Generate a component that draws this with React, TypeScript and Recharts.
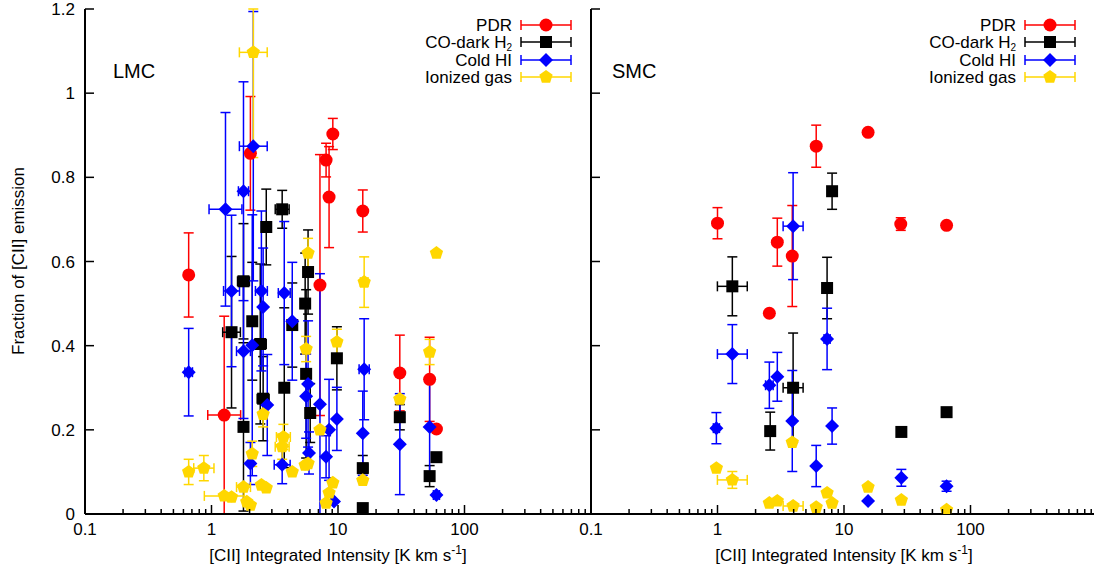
import React from 'react';
import { ScatterChart, Scatter, XAxis, YAxis, ErrorBar } from 'recharts';

// [x, y, yError, xErrorInDex]
const lmcPdr: number[][] = [
  [0.66, 0.568, 0.10, 0], [1.26, 0.235, 0.235, 0.13], [2.03, 0.857, 0.135, 0], [7.2, 0.544, 0.31, 0],
  [8.05, 0.841, 0.04, 0], [8.5, 0.753, 0.12, 0], [9.1, 0.903, 0.037, 0], [15.7, 0.72, 0.05, 0],
  [30.8, 0.335, 0.09, 0], [53, 0.32, 0.1, 0], [60, 0.202, 0, 0],
];
const lmcCoDark: number[][] = [
  [1.44, 0.432, 0.18, 0.07], [1.79, 0.553, 0.137, 0.047], [2.71, 0.682, 0.09, 0], [3.62, 0.724, 0.045, 0.055],
  [5.8, 0.575, 0.1, 0], [2.1, 0.458, 0.14, 0], [2.43, 0.404, 0.19, 0.047], [1.79, 0.207, 0.2, 0],
  [2.56, 0.274, 0.1, 0.047], [3.76, 0.30, 0.19, 0], [4.35, 0.449, 0.1, 0.03], [5.5, 0.50, 0.12, 0],
  [5.6, 0.333, 0.2, 0], [6.03, 0.24, 0.07, 0], [9.8, 0.37, 0.075, 0], [15.7, 0.109, 0.03, 0.04],
  [15.7, 0.014, 0.01, 0], [30.8, 0.23, 0.03, 0], [53, 0.09, 0.025, 0], [60, 0.135, 0, 0],
];
const lmcColdHI: number[][] = [
  [0.66, 0.337, 0.104, 0.03], [1.29, 0.724, 0.23, 0.13], [1.79, 0.767, 0.26, 0.04], [2.14, 0.874, 0.32, 0.11],
  [1.44, 0.53, 0.18, 0.063], [2.48, 0.53, 0.19, 0.047], [3.76, 0.525, 0.17, 0.047], [2.56, 0.492, 0.14, 0],
  [4.35, 0.458, 0.14, 0], [1.79, 0.387, 0.16, 0.055], [2.1, 0.401, 0.31, 0], [2.76, 0.259, 0.12, 0],
  [2.03, 0.12, 0.05, 0], [3.62, 0.117, 0.045, 0.063], [5.8, 0.309, 0.15, 0], [5.6, 0.28, 0.1, 0],
  [7.2, 0.261, 0.31, 0], [8.5, 0.2, 0.12, 0], [9.8, 0.226, 0.075, 0], [5.9, 0.145, 0.05, 0],
  [8.05, 0.136, 0.05, 0], [9.3, 0.03, 0, 0], [16.1, 0.344, 0.12, 0.04], [15.7, 0.192, 0.1, 0],
  [30.8, 0.166, 0.12, 0], [53, 0.207, 0.11, 0], [60, 0.045, 0, 0.024],
];
const lmcIonized: number[][] = [
  [2.14, 1.097, 0.25, 0.11], [5.8, 0.62, 0.035, 0], [16.1, 0.551, 0.06, 0.03], [60, 0.62, 0, 0],
  [5.6, 0.392, 0.03, 0], [9.8, 0.409, 0.03, 0], [53, 0.385, 0.03, 0], [30.8, 0.273, 0, 0],
  [15.7, 0.08, 0, 0], [2.56, 0.237, 0.03, 0], [3.7, 0.183, 0.03, 0.055], [3.62, 0.16, 0.03, 0.055],
  [2.1, 0.143, 0.03, 0], [4.35, 0.1, 0, 0], [5.5, 0.116, 0, 0], [5.8, 0.12, 0, 0],
  [0.66, 0.1, 0.03, 0], [0.87, 0.109, 0.03, 0.08], [1.26, 0.043, 0, 0.157], [1.44, 0.04, 0, 0],
  [1.79, 0.064, 0, 0.055], [1.9, 0.029, 0, 0], [2.03, 0.021, 0, 0], [2.48, 0.069, 0, 0],
  [2.71, 0.062, 0, 0], [9.1, 0.074, 0, 0], [8.5, 0.05, 0, 0], [8.05, 0.026, 0, 0], [7.2, 0.2, 0, 0],
];

const smcPdr: number[][] = [
  [1.0, 0.691, 0.037, 0], [2.97, 0.646, 0.057, 0.024], [3.9, 0.613, 0.12, 0], [2.57, 0.477, 0, 0.024],
  [6.03, 0.874, 0.05, 0], [15.5, 0.907, 0, 0], [28.1, 0.689, 0.015, 0], [64.7, 0.686, 0, 0],
];
const smcCoDark: number[][] = [
  [1.31, 0.541, 0.07, 0.118], [8.05, 0.767, 0.043, 0], [7.35, 0.537, 0.073, 0], [3.96, 0.30, 0.13, 0.079],
  [2.61, 0.197, 0.045, 0.024], [28.4, 0.195, 0, 0], [64.7, 0.242, 0, 0],
];
const smcColdHI: number[][] = [
  [0.98, 0.204, 0.037, 0.024], [1.31, 0.38, 0.07, 0.118], [2.57, 0.306, 0.055, 0.03], [2.97, 0.326, 0.058, 0],
  [3.96, 0.684, 0.127, 0.079], [3.9, 0.221, 0.12, 0], [7.35, 0.416, 0.073, 0.024], [8.05, 0.209, 0.043, 0],
  [6.03, 0.114, 0.049, 0], [15.5, 0.031, 0, 0], [28.4, 0.086, 0.02, 0], [64.7, 0.066, 0.012, 0],
];
const smcIonized: number[][] = [
  [0.98, 0.109, 0, 0], [1.31, 0.081, 0.02, 0.118], [2.57, 0.026, 0, 0], [2.97, 0.031, 0, 0],
  [3.96, 0.019, 0, 0.079], [3.9, 0.17, 0, 0], [6.03, 0.016, 0, 0], [7.35, 0.05, 0, 0],
  [8.05, 0.026, 0, 0], [15.5, 0.064, 0, 0], [28.4, 0.033, 0, 0], [64.7, 0.01, 0, 0],
];

const xTicks = [
  0.1, 0.2, 0.3, 0.4, 0.5, 0.6, 0.7, 0.8, 0.9,
  1, 2, 3, 4, 5, 6, 7, 8, 9,
  10, 20, 30, 40, 50, 60, 70, 80, 90,
  100, 200, 300, 400, 500, 600, 700, 800, 900, 1000,
];
const xMajorLabels = [0.1, 1, 10, 100];
const xMajor = [0.1, 1, 10, 100, 1000];
const yTicks = [0, 0.2, 0.4, 0.6, 0.8, 1, 1.2];
const Y_MIN = 0;
const Y_MAX = 1.2;
const seriesNames = ['PDR', 'CO-dark H', 'Cold HI', 'Ionized gas'];

const RED = '#ff0000';
const BLACK = '#000000';
const BLUE = '#0000ff';
const GOLD = '#ffd700';
const FONT = '"Liberation Sans", Arial, Helvetica, sans-serif';

// error bars are cut at the frame, as in the reference
const build = (rows: number[][]) =>
  rows.map(([x, y, dy, dd]) => ({
    x,
    y,
    ey: [Math.min(dy, y - Y_MIN), Math.min(dy, Y_MAX - y)],
    ex: [x - x / Math.pow(10, dd), x * Math.pow(10, dd) - x],
  }));

const CircleShape = (p: any) => <circle cx={p.cx} cy={p.cy} r={6.5} fill={RED} />;
const SquareShape = (p: any) => <rect x={p.cx - 6} y={p.cy - 6} width={12} height={12} fill={BLACK} />;
const DiamondShape = (p: any) => (
  <polygon
    points={`${p.cx},${p.cy - 7} ${p.cx + 7},${p.cy} ${p.cx},${p.cy + 7} ${p.cx - 7},${p.cy}`}
    fill={BLUE}
  />
);
const pentPts = (cx: number, cy: number, r: number) =>
  [0, 1, 2, 3, 4]
    .map((i) => {
      const a = (-90 + i * 72) * (Math.PI / 180);
      return `${cx + r * Math.cos(a)},${cy + r * Math.sin(a)}`;
    })
    .join(' ');
const PentagonShape = (p: any) => <polygon points={pentPts(p.cx, p.cy, 7)} fill={GOLD} />;

const fmtX = (v: number) => (v === 0.1 ? '0.1' : String(v));

const makeXTick = (side: 'bottom' | 'top', labels: boolean) => (props: any) => {
  const { x, y, payload } = props;
  const v = payload.value;
  const major = xMajor.some((m) => Math.abs(m - v) < 1e-9);
  const len = major ? 9 : 5;
  const dir = side === 'bottom' ? -1 : 1;
  return (
    <g>
      <line x1={x} y1={y} x2={x} y2={y + dir * len} stroke="#000" strokeWidth={1.5} />
      {labels && xMajorLabels.includes(v) && (
        <text x={x} y={y + 21} textAnchor="middle" fontSize={17} fontFamily={FONT} fill="#000">
          {fmtX(v)}
        </text>
      )}
    </g>
  );
};

const makeYTick = (side: 'left' | 'right', labels: boolean) => (props: any) => {
  const { x, y, payload } = props;
  const dir = side === 'left' ? 1 : -1;
  return (
    <g>
      <line x1={x} y1={y} x2={x + dir * 9} y2={y} stroke="#000" strokeWidth={1.5} />
      {labels && (
        <text x={x - 10} y={y + 6} textAnchor="end" fontSize={17} fontFamily={FONT} fill="#000">
          {String(payload.value)}
        </text>
      )}
    </g>
  );
};

const axisLine = { stroke: '#000', strokeWidth: 2 };

const Panel = ({
  width,
  leftWidth,
  labels,
  pdr,
  co,
  hi,
  ion,
}: {
  width: number;
  leftWidth: number;
  labels: boolean;
  pdr: number[][];
  co: number[][];
  hi: number[][];
  ion: number[][];
}) => {
  const series = [
    { data: build(pdr), color: RED, shape: CircleShape },
    { data: build(co), color: BLACK, shape: SquareShape },
    { data: build(hi), color: BLUE, shape: DiamondShape },
    { data: build(ion), color: GOLD, shape: PentagonShape },
  ];
  return (
    <ScatterChart width={width} height={571} margin={{ top: 9, right: 9, bottom: 0, left: 0 }}>
      <XAxis
        xAxisId="b"
        dataKey="x"
        type="number"
        scale="log"
        domain={[0.1, 1000]}
        ticks={xTicks}
        interval={0}
        orientation="bottom"
        height={57}
        tickSize={0}
        tickMargin={0}
        tickLine={false}
        axisLine={axisLine}
        tick={makeXTick('bottom', true)}
        allowDataOverflow
      />
      <XAxis
        xAxisId="t"
        dataKey="x"
        type="number"
        scale="log"
        domain={[0.1, 1000]}
        ticks={xTicks}
        interval={0}
        orientation="top"
        height={0}
        tickSize={0}
        tickMargin={0}
        tickLine={false}
        axisLine={axisLine}
        tick={makeXTick('top', false)}
        allowDataOverflow
      />
      <YAxis
        yAxisId="l"
        dataKey="y"
        type="number"
        domain={[Y_MIN, Y_MAX]}
        ticks={yTicks}
        interval={0}
        orientation="left"
        width={leftWidth}
        tickSize={0}
        tickMargin={0}
        tickLine={false}
        axisLine={axisLine}
        tick={makeYTick('left', labels)}
        allowDataOverflow
      />
      <YAxis
        yAxisId="r"
        dataKey="y"
        type="number"
        domain={[Y_MIN, Y_MAX]}
        ticks={yTicks}
        interval={0}
        orientation="right"
        width={0}
        tickSize={0}
        tickMargin={0}
        tickLine={false}
        axisLine={axisLine}
        tick={makeYTick('right', false)}
        allowDataOverflow
      />
      {series.map((s, i) => (
        <Scatter
          key={i}
          data={s.data}
          xAxisId="b"
          yAxisId="l"
          shape={s.shape}
          fill={s.color}
          isAnimationActive={false}
        >
          <ErrorBar dataKey="ey" direction="y" width={5} stroke={s.color} strokeWidth={1.5} />
          <ErrorBar dataKey="ex" direction="x" width={5} stroke={s.color} strokeWidth={1.5} />
        </Scatter>
      ))}
    </ScatterChart>
  );
};

const legendColors = [RED, BLACK, BLUE, GOLD];
const legendRowY = [25, 42, 60, 77];

const LegendBlock = ({ textRight }: { textRight: number }) => {
  const l0 = textRight + 9;
  const l1 = textRight + 59;
  const m = textRight + 34;
  const shapes = [CircleShape, SquareShape, DiamondShape, PentagonShape];
  return (
    <g>
      {seriesNames.map((name, i) => {
        const y = legendRowY[i];
        const c = legendColors[i];
        const Shape = shapes[i];
        return (
          <g key={name}>
            <text x={textRight} y={y + 6} textAnchor="end" fontSize={17} fontFamily={FONT} fill="#000">
              {name}
              {i === 1 && (
                <tspan fontSize={10} dy={3}>
                  2
                </tspan>
              )}
            </text>
            <line x1={l0} y1={y} x2={l1} y2={y} stroke={c} strokeWidth={1.5} />
            <line x1={l0} y1={y - 5} x2={l0} y2={y + 5} stroke={c} strokeWidth={1.5} />
            <line x1={l1} y1={y - 5} x2={l1} y2={y + 5} stroke={c} strokeWidth={1.5} />
            {Shape({ cx: m, cy: y })}
          </g>
        );
      })}
    </g>
  );
};

const AxisTitle = ({ cx }: { cx: number }) => (
  <text x={cx} y={561} textAnchor="middle" fontSize={17} fontFamily={FONT} fill="#000">
    [CII] Integrated Intensity [K km s
    <tspan fontSize={12} dy={-7}>
      -1
    </tspan>
    <tspan dy={7}>]</tspan>
  </text>
);

export default function App() {
  return (
    <div
      style={{
        position: 'absolute',
        left: 0,
        top: 0,
        width: 1094,
        height: 571,
        overflow: 'hidden',
        background: '#fff',
      }}
    >
      <div style={{ position: 'absolute', left: 0, top: 0 }}>
        <Panel width={600} leftWidth={85} labels pdr={lmcPdr} co={lmcCoDark} hi={lmcColdHI} ion={lmcIonized} />
      </div>
      <div style={{ position: 'absolute', left: 541, top: 0 }}>
        <Panel width={565} leftWidth={50} labels={false} pdr={smcPdr} co={smcCoDark} hi={smcColdHI} ion={smcIonized} />
      </div>
      <svg
        width={1094}
        height={571}
        style={{ position: 'absolute', left: 0, top: 0, pointerEvents: 'none' }}
      >
        <text x={113} y={78} fontSize={20} fontFamily={FONT} fill="#000">
          LMC
        </text>
        <text x={612} y={78} fontSize={20} fontFamily={FONT} fill="#000">
          SMC
        </text>
        <LegendBlock textRight={512} />
        <LegendBlock textRight={1016} />
        <AxisTitle cx={338} />
        <AxisTitle cx={844} />
        <text
          x={24}
          y={261}
          transform="rotate(-90, 24, 261)"
          textAnchor="middle"
          fontSize={17}
          fontFamily={FONT}
          fill="#000"
        >
          Fraction of [CII] emission
        </text>
      </svg>
    </div>
  );
}
